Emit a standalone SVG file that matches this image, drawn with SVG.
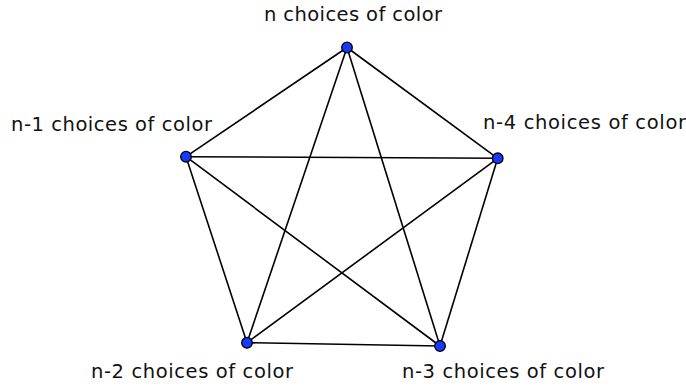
<svg xmlns="http://www.w3.org/2000/svg" width="686" height="386" viewBox="0 0 686 386">
<style>
.e{stroke:#000;stroke-width:1.6;fill:none}
.n{fill:#1439ff;stroke:#000;stroke-width:1.3}
.t{font-family:"DejaVu Sans",Verdana,sans-serif;font-size:19.5px;fill:#111}
</style>
<rect width="686" height="386" fill="#fff"/>
<g id="edges">
<line class="e" x1="347" y1="47.5" x2="186" y2="156.7"/>
<line class="e" x1="347" y1="47.5" x2="497.7" y2="158.3"/>
<line class="e" x1="347" y1="47.5" x2="247" y2="342.7"/>
<line class="e" x1="347" y1="47.5" x2="440" y2="346"/>
<line class="e" x1="186" y1="156.7" x2="497.7" y2="158.3"/>
<line class="e" x1="186" y1="156.7" x2="247" y2="342.7"/>
<line class="e" x1="186" y1="156.7" x2="440" y2="346"/>
<line class="e" x1="497.7" y1="158.3" x2="247" y2="342.7"/>
<line class="e" x1="497.7" y1="158.3" x2="440" y2="346"/>
<line class="e" x1="247" y1="342.7" x2="440" y2="346"/>
</g>
<g id="node-n">
<circle class="n" cx="347" cy="47.5" r="5.3"/>
<text class="t" x="264" y="21" textLength="178" lengthAdjust="spacing">n choices of color</text>
</g>
<g id="node-n1">
<circle class="n" cx="186" cy="156.7" r="5.3"/>
<text class="t" x="11" y="131" textLength="201" lengthAdjust="spacing">n-1 choices of color</text>
</g>
<g id="node-n4">
<circle class="n" cx="497.7" cy="158.3" r="5.3"/>
<text class="t" x="483" y="129" textLength="203" lengthAdjust="spacing">n-4 choices of color</text>
</g>
<g id="node-n2">
<circle class="n" cx="247" cy="342.7" r="5.3"/>
<text class="t" x="91" y="378" textLength="202" lengthAdjust="spacing">n-2 choices of color</text>
</g>
<g id="node-n3">
<circle class="n" cx="440" cy="346" r="5.3"/>
<text class="t" x="402" y="378" textLength="202" lengthAdjust="spacing">n-3 choices of color</text>
</g>
</svg>
